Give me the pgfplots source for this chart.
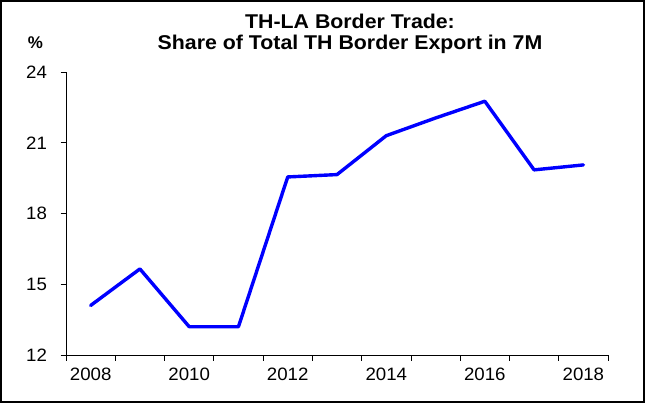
\documentclass[border=0pt]{standalone}
\usepackage{fontspec}
\setmainfont{Liberation Sans}
\newfontfamily\titlefont[FakeStretch=1.07]{Liberation Sans}
\newfontfamily\tickfont[FakeStretch=1.04]{Liberation Sans}
\usepackage{pgfplots}
\pgfplotsset{compat=1.18}
\definecolor{lineblue}{RGB}{0,0,255}
\begin{document}
\begin{tikzpicture}[x=1bp,y=1bp]
\path[use as bounding box] (0,0) rectangle (645,403);
\draw[line width=1.4bp] (1,1) rectangle (644,402);
\begin{axis}[
  at={(66bp,48bp)}, anchor=south west,
  scale only axis, width=542bp, height=283bp,
  xmin=2007.5, xmax=2018.5,
  ymin=12, ymax=24,
  axis x line*=bottom, axis y line*=left,
  axis line style={line width=0.8bp, -},
  xtick={2007.5,2008.5,...,2018.5},
  xticklabels={},
  extra x ticks={2008,2010,2012,2014,2016,2018},
  extra x tick labels={2008,2010,2012,2014,2016,2018},
  extra x tick style={major tick length=0pt},
  ytick={12,15,18,21,24},
  tick align=outside,
  major tick length=5.5bp,
  tick style={line width=0.8bp, black},
  tick label style={font=\tickfont\fontsize{18}{21}\selectfont},
  /pgf/number format/assume math mode=true,
  x tick label style={yshift=-9bp},
  y tick label style={xshift=-10bp},
  clip=false,
]
\addplot[lineblue, line width=3.4bp, line join=round, line cap=round] coordinates {
(2008,14.1) (2009,15.65) (2010,13.2) (2011,13.2) (2012,19.55) (2013,19.65)
(2014,21.3) (2015,22.05) (2016,22.76) (2017,19.85) (2018,20.06)
};
\end{axis}
\node[anchor=base, font=\titlefont\bfseries\fontsize{20}{23}\selectfont] at (350,375) {TH-LA Border Trade:};
\node[anchor=base, font=\titlefont\bfseries\fontsize{20}{23}\selectfont] at (350,354) {Share of Total TH Border Export in 7M};
\node[anchor=base, font=\bfseries\fontsize{17}{20}\selectfont] at (35.5,354.7) {\%};
\end{tikzpicture}
\end{document}
